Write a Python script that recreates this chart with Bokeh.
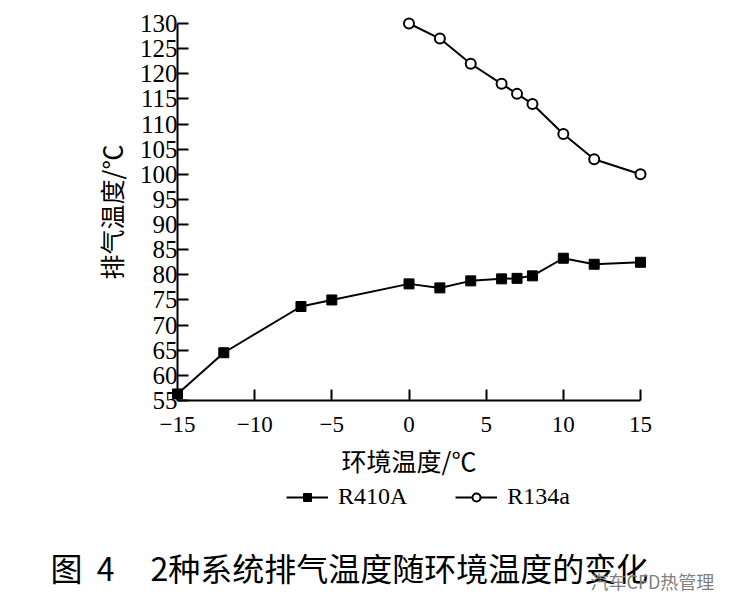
from bokeh.plotting import figure
from bokeh.models import (Range1d, FixedTicker, CustomJSTickFormatter, Legend,
                          LegendItem, Label)
from bokeh.embed import file_html
from bokeh.resources import INLINE

# ---- data ----
ambient_r410a = [-15, -12, -7, -5, 0, 2, 4, 6, 7, 8, 10, 12, 15]
discharge_r410a = [56.3, 64.5, 73.7, 75.0, 78.2, 77.4, 78.8, 79.2, 79.3, 79.8, 83.3, 82.1, 82.5]
ambient_r134a = [0, 2, 4, 6, 7, 8, 10, 12, 15]
discharge_r134a = [130, 127, 122, 118, 116, 114, 108, 103, 100]
x_ticks = [-15, -10, -5, 0, 5, 10, 15]
y_ticks = [55, 60, 65, 70, 75, 80, 85, 90, 95, 100, 105, 110, 115, 120, 125, 130]
x_bounds = (-15, 15)
y_bounds = (55, 130)

x_label = "环境温度/℃"
y_label = "排气温度/℃"
caption = "图\u00a0\u00a04\u00a0\u00a0\u00a0\u00a0\u00a02种系统排气温度随环境温度的变化"
watermark = "汽车CFD热管理"

SERIF = "Liberation Serif"
CJK = "Noto Sans CJK SC"

# layout: plot area in canvas pixels (axes drawn at fixed locations inside)
W, H = 722, 599
AX_LEFT, AX_RIGHT = 177, 640      # canvas x of x_bounds
AX_TOP, AX_BOTTOM = 23, 400       # canvas y of y_bounds (from top)
kx = (AX_RIGHT - AX_LEFT) / (x_bounds[1] - x_bounds[0])
ky = (AX_BOTTOM - AX_TOP) / (y_bounds[1] - y_bounds[0])
x0 = x_bounds[0] - AX_LEFT / kx
y1 = y_bounds[1] + AX_TOP / ky

p = figure(width=W, height=H, output_backend="svg", toolbar_location=None,
           x_range=Range1d(x0, x0 + W / kx), y_range=Range1d(y1 - H / ky, y1),
           min_border=0)
p.outline_line_color = None
p.grid.visible = False
p.background_fill_color = "white"
p.border_fill_color = "white"

for ax in (p.xaxis[0], p.yaxis[0]):
    ax.axis_line_width = 2
    ax.axis_line_color = "black"
    ax.major_tick_line_width = 2
    ax.major_tick_line_color = "black"
    ax.major_tick_in = 11
    ax.major_tick_out = 0
    ax.minor_tick_in = 0
    ax.minor_tick_out = 0
    ax.major_label_text_font = SERIF
    ax.major_label_text_color = "black"
    ax.axis_label_text_font = CJK
    ax.axis_label_text_font_style = "normal"
    ax.axis_label_text_font_size = "25px"
    ax.axis_label_text_color = "black"

p.xaxis.ticker = FixedTicker(ticks=x_ticks)
p.yaxis.ticker = FixedTicker(ticks=y_ticks)
p.xaxis.bounds = x_bounds
p.yaxis.bounds = y_bounds
p.yaxis.fixed_location = x_bounds[0]
p.xaxis.fixed_location = y_bounds[0]
p.xaxis.formatter = CustomJSTickFormatter(
    code="return tick < 0 ? '\u2212' + Math.abs(tick) : String(tick);")
p.xaxis.major_label_text_font_size = "23px"
p.yaxis.major_label_text_font_size = "25px"
p.xaxis.major_label_standoff = 16
p.yaxis.major_label_standoff = 0
p.xaxis.axis_label = x_label
p.yaxis.axis_label = y_label
p.xaxis.axis_label_standoff = 7
p.yaxis.axis_label_standoff = 8

r1 = p.line(ambient_r410a, discharge_r410a, line_color="black", line_width=2)
s1 = p.scatter(ambient_r410a, discharge_r410a, marker="square", size=10,
               fill_color="black", line_color="black")
r2 = p.line(ambient_r134a, discharge_r134a, line_color="black", line_width=2)
s2 = p.scatter(ambient_r134a, discharge_r134a, marker="circle", size=10,
               fill_color="white", line_color="black", line_width=2)

legend = Legend(items=[LegendItem(label="R410A", renderers=[r1, s1]),
                       LegendItem(label="R134a", renderers=[r2, s2])],
                orientation="horizontal", location=(286, 89),
                border_line_color=None, background_fill_alpha=0,
                padding=0, margin=0, spacing=48,
                glyph_width=42, glyph_height=20, label_standoff=10,
                label_height=20,
                label_text_font=SERIF, label_text_font_size="24px",
                label_text_color="black")
p.add_layout(legend, "center")

p.add_layout(Label(x=50, y=33, x_units="screen", y_units="screen",
                   text=caption, text_font=CJK, text_font_size="32px",
                   text_align="left", text_baseline="middle",
                   text_color="black"))
p.add_layout(Label(x=590, y=19, x_units="screen", y_units="screen",
                   text=watermark, text_font=CJK, text_font_size="18px",
                   text_align="left", text_baseline="middle",
                   text_color="#7f7f7f"))

open("out.html", "w").write(file_html(p, INLINE))
